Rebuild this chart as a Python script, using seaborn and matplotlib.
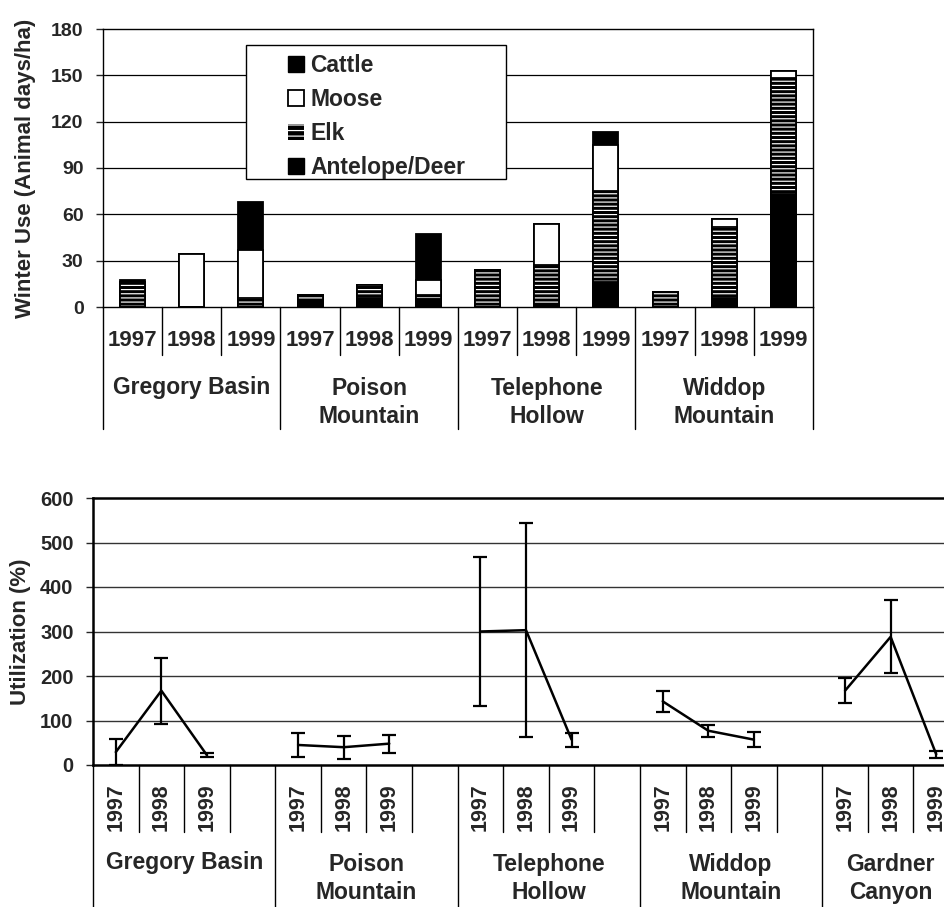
import numpy as np
import pandas as pd
import matplotlib
matplotlib.use('Agg')
import matplotlib.pyplot as plt
import matplotlib.transforms as mtransforms
from matplotlib.patches import Patch, Rectangle
import seaborn as sns

# ---- data: winter use (top panel) ----
top_sites = ['Gregory Basin', 'Poison\nMountain', 'Telephone\nHollow', 'Widdop\nMountain']
years = ['1997', '1998', '1999']
antelope = [0, 0, 0, 4, 6, 5, 0, 2, 16, 0, 6, 73]
elk = [16, 0, 6, 4, 8, 2.6, 24, 25, 59, 10, 46, 75]
moose = [0, 34, 31, 0, 0, 9.7, 0, 27, 30, 0, 5, 5]
cattle = [1.5, 0, 31, 0, 0, 29.7, 0, 0, 8, 0, 0, 0]

# ---- data: utilization (bottom panel) ----
util_sites = ['Gregory Basin', 'Poison\nMountain', 'Telephone\nHollow', 'Widdop\nMountain', 'Gardner\nCanyon']
util_mean = [29, 167, 22, 45, 40, 48, 300, 303, 57, 143, 77, 57, 167, 288, 24]
util_err = [29, 74, 5, 28, 26, 20, 168, 240, 16, 24, 14, 17, 28, 82, 8]

sns.set_theme(style='white')
plt.rcParams['font.family'] = ['Liberation Sans', 'DejaVu Sans']
plt.rcParams['font.weight'] = 'bold'
plt.rcParams['axes.labelweight'] = 'bold'
plt.rcParams['hatch.linewidth'] = 0.85

fig = plt.figure(figsize=(9.45, 9.07), dpi=100)

# ================= top panel =================
ax1 = fig.add_axes([103 / 945, 1 - 307 / 907, 710 / 945, 278 / 907])

labels = [f'{s}|{y}' for s in top_sites for y in years]
top = pd.DataFrame({'slot': labels, 'antelope': antelope, 'elk': elk,
                    'moose': moose, 'cattle': cattle})
top['l1'] = top['antelope']
top['l2'] = top['l1'] + top['elk']
top['l3'] = top['l2'] + top['moose']
top['l4'] = top['l3'] + top['cattle']

for y in [30, 60, 90, 120, 150]:
    ax1.axhline(y, color='black', lw=0.9, zorder=0)

bw = 0.42
common = dict(data=top, x='slot', order=labels, width=bw, saturation=1, ax=ax1, errorbar=None)
sns.barplot(y='l4', color='black', edgecolor='black', linewidth=1.3, **common)
sns.barplot(y='l3', color='white', edgecolor='black', linewidth=1.3, **common)
sns.barplot(y='l2', color='black', edgecolor='white', hatch='----', linewidth=0, **common)
sns.barplot(y='l2', color='black', fill=False, linewidth=1.3, **common)
sns.barplot(y='l1', color='black', edgecolor='black', linewidth=1.3, **common)

ax1.set_ylim(0, 180)
ax1.set_xlim(-0.5, len(labels) - 0.5)
ax1.set_yticks(range(0, 181, 30))
ax1.set_xticks([])
ax1.set_xlabel('')
ax1.set_ylabel('Winter Use (Animal days/ha)', fontsize=16)
ax1.yaxis.set_label_coords(-0.094, 0.5)
ax1.tick_params(axis='y', labelsize=14, length=5, width=1, direction='out', pad=9, left=True)
for side in ['left', 'top', 'right', 'bottom']:
    ax1.spines[side].set_color('black')
    ax1.spines[side].set_linewidth(1.0)

trans1 = mtransforms.blended_transform_factory(ax1.transData, ax1.transAxes)
for i in range(len(labels) + 1):
    x = i - 0.5
    low = -0.44 if i % 3 == 0 else -0.173
    ax1.plot([x, x], [0, low], color='black', lw=1.0, transform=trans1, clip_on=False)
for i, lab in enumerate(labels):
    ax1.text(i, -0.119, lab.split('|')[1], transform=trans1, ha='center', va='center',
             fontsize=16, fontweight='bold')
for g, site in enumerate(top_sites):
    yy = -0.291 if '\n' not in site else -0.343
    ax1.text(g * 3 + 1, yy, site, transform=trans1, ha='center', va='center',
             fontsize=16.5, fontweight='bold', linespacing=1.3)

# legend with frame box
ax1.add_patch(Rectangle((0.201, 0.462), 0.366, 0.48, transform=ax1.transAxes,
                        facecolor='white', edgecolor='black', lw=1.0, zorder=5))
handles = [Patch(facecolor='black', edgecolor='black', label='Cattle'),
           Patch(facecolor='white', edgecolor='black', lw=1.3, label='Moose'),
           Patch(facecolor='black', edgecolor='white', hatch='---', lw=0, label='Elk'),
           Patch(facecolor='black', edgecolor='black', label='Antelope/Deer')]
leg = ax1.legend(handles=handles, loc='upper left', bbox_to_anchor=(0.26, 0.91),
                 frameon=False, fontsize=16.5, handlelength=0.7, handleheight=0.7,
                 handletextpad=0.3, labelspacing=0.48, borderpad=0, borderaxespad=0)
leg.set_zorder(6)

# ================= bottom panel =================
ax2 = fig.add_axes([93 / 945, 1 - 765 / 907, 866 / 945, 267 / 907])

rows = []
for g, site in enumerate(util_sites):
    for k, yr in enumerate(years):
        idx = g * 3 + k
        rows.append({'site': site, 'year': yr, 'slot': g * 4 + k,
                     'mean': util_mean[idx], 'err': util_err[idx]})
util = pd.DataFrame(rows)

for y in [100, 200, 300, 400, 500]:
    ax2.axhline(y, color='#333333', lw=1.0, zorder=0)

sns.lineplot(data=util, x='slot', y='mean', units='site', estimator=None,
             color='black', lw=1.8, ax=ax2)
ax2.errorbar(util['slot'], util['mean'], yerr=util['err'], fmt='none',
             ecolor='black', elinewidth=1.6, capsize=5, capthick=1.6)

nslots = len(util_sites) * 4 - 1
ax2.set_xlim(-0.5, nslots - 0.5)
ax2.set_ylim(0, 600)
ax2.set_yticks(range(0, 601, 100))
ax2.set_xticks([])
ax2.set_xlabel('')
ax2.set_ylabel('Utilization (%)', fontsize=16)
ax2.yaxis.set_label_coords(-0.072, 0.5)
ax2.tick_params(axis='y', labelsize=14.5, length=5, width=1, direction='out', pad=9, left=True)
for side in ['left', 'top', 'bottom']:
    ax2.spines[side].set_color('black')
    ax2.spines[side].set_linewidth(1.8)
ax2.spines['right'].set_visible(False)

trans2 = mtransforms.blended_transform_factory(ax2.transData, ax2.transAxes)
for i in range(nslots + 1):
    x = i - 0.5
    low = -0.6 if i % 4 == 0 else -0.251
    ax2.plot([x, x], [0, low], color='black', lw=1.0, transform=trans2, clip_on=False)
for _, r in util.iterrows():
    ax2.text(r['slot'], -0.157, r['year'], transform=trans2, ha='center', va='center',
             rotation=90, fontsize=15.5, fontweight='bold')
for g, site in enumerate(util_sites):
    cx = g * 4 + 1.5 if g < len(util_sites) - 1 else g * 4 + 1
    yy = -0.367 if '\n' not in site else -0.425
    ax2.text(cx, yy, site, transform=trans2, ha='center', va='center',
             fontsize=16.5, fontweight='bold', linespacing=1.3)

fig.savefig('out.png', dpi=100)
